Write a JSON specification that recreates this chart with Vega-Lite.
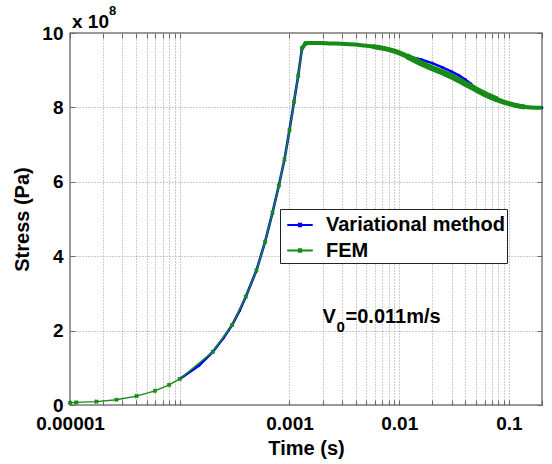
{
  "$schema": "https://vega.github.io/schema/vega-lite/v6.json",
  "width": 472,
  "height": 372,
  "autosize": {"type": "none"},
  "padding": {"left": 70, "top": 33, "right": 10, "bottom": 59},
  "background": "white",
  "config": {
    "font": "Liberation Sans",
    "view": {"stroke": "#7a7a7a", "strokeWidth": 1.5},
    "axis": {
      "labelFont": "Liberation Sans", "labelFontWeight": "bold", "labelFontSize": 19, "labelColor": "black",
      "titleFont": "Liberation Sans", "titleFontWeight": "bold", "titleFontSize": 20, "titleColor": "black",
      "domain": false, "tickColor": "#666", "tickSize": -5, "tickWidth": 1,
      "gridColor": "#999", "gridDash": [1, 2], "gridWidth": 1
    },
    "legend": {
      "orient": "none", "legendX": 210, "legendY": 176, "direction": "vertical",
      "fillColor": "white", "strokeColor": "#222", "padding": 2,
      "labelFont": "Liberation Sans", "labelFontSize": 20, "labelFontWeight": "bold", "labelColor": "black", "labelLimit": 0,
      "symbolType": "M-1,0L1,0M-0.1,-0.1L0.1,-0.1L0.1,0.1L-0.1,0.1Z",
      "symbolSize": 650, "symbolStrokeWidth": 1.8, "symbolOffset": 4, "labelOffset": 12, "rowPadding": 1.5
    }
  },
  "datasets": {
    "notes": [{"t": 0.002, "y": 2.2, "top_t": 0.00001, "top_y": 10}]
  },
  "data": {"values": [
    {"series": "FEM", "t": 0.00001, "y": 0.06},
    {"series": "FEM", "t": 0.0000114, "y": 0.07},
    {"series": "FEM", "t": 0.0000174, "y": 0.09},
    {"series": "FEM", "t": 0.0000265, "y": 0.14},
    {"series": "FEM", "t": 0.0000404, "y": 0.24},
    {"series": "FEM", "t": 0.0000594, "y": 0.38},
    {"series": "FEM", "t": 0.00008, "y": 0.54},
    {"series": "FEM", "t": 0.0001, "y": 0.7},
    {"series": "FEM", "t": 0.0002, "y": 1.43},
    {"series": "FEM", "t": 0.0003, "y": 2.15},
    {"series": "FEM", "t": 0.0004, "y": 2.91},
    {"series": "FEM", "t": 0.0005, "y": 3.62},
    {"series": "FEM", "t": 0.0006, "y": 4.39},
    {"series": "FEM", "t": 0.0007, "y": 5.17},
    {"series": "FEM", "t": 0.0008, "y": 5.9},
    {"series": "FEM", "t": 0.0009, "y": 6.6},
    {"series": "FEM", "t": 0.001, "y": 7.39},
    {"series": "FEM", "t": 0.0011, "y": 8.15},
    {"series": "FEM", "t": 0.0012, "y": 8.85},
    {"series": "FEM", "t": 0.0013, "y": 9.59},
    {"series": "FEM", "t": 0.0014, "y": 9.72},
    {"series": "FEM", "t": 0.0015, "y": 9.73},
    {"series": "FEM", "t": 0.0017, "y": 9.73},
    {"series": "FEM", "t": 0.002, "y": 9.73},
    {"series": "FEM", "t": 0.0023, "y": 9.72},
    {"series": "FEM", "t": 0.0026, "y": 9.72},
    {"series": "FEM", "t": 0.003, "y": 9.71},
    {"series": "FEM", "t": 0.0035, "y": 9.7},
    {"series": "FEM", "t": 0.004, "y": 9.69},
    {"series": "FEM", "t": 0.0045, "y": 9.67},
    {"series": "FEM", "t": 0.005, "y": 9.66},
    {"series": "FEM", "t": 0.0057, "y": 9.64},
    {"series": "FEM", "t": 0.0065, "y": 9.61},
    {"series": "FEM", "t": 0.0074, "y": 9.58},
    {"series": "FEM", "t": 0.0084, "y": 9.54},
    {"series": "FEM", "t": 0.0095, "y": 9.49},
    {"series": "FEM", "t": 0.0105, "y": 9.44},
    {"series": "FEM", "t": 0.0117, "y": 9.38},
    {"series": "FEM", "t": 0.013, "y": 9.31},
    {"series": "FEM", "t": 0.0145, "y": 9.24},
    {"series": "FEM", "t": 0.016, "y": 9.18},
    {"series": "FEM", "t": 0.018, "y": 9.11},
    {"series": "FEM", "t": 0.02, "y": 9.05},
    {"series": "FEM", "t": 0.0225, "y": 8.99},
    {"series": "FEM", "t": 0.025, "y": 8.94},
    {"series": "FEM", "t": 0.028, "y": 8.87},
    {"series": "FEM", "t": 0.031, "y": 8.81},
    {"series": "FEM", "t": 0.035, "y": 8.73},
    {"series": "FEM", "t": 0.039, "y": 8.65},
    {"series": "FEM", "t": 0.044, "y": 8.57},
    {"series": "FEM", "t": 0.049, "y": 8.5},
    {"series": "FEM", "t": 0.055, "y": 8.42},
    {"series": "FEM", "t": 0.062, "y": 8.34},
    {"series": "FEM", "t": 0.07, "y": 8.27},
    {"series": "FEM", "t": 0.078, "y": 8.21},
    {"series": "FEM", "t": 0.088, "y": 8.15},
    {"series": "FEM", "t": 0.1, "y": 8.1},
    {"series": "FEM", "t": 0.112, "y": 8.06},
    {"series": "FEM", "t": 0.126, "y": 8.03},
    {"series": "FEM", "t": 0.14, "y": 8.01},
    {"series": "FEM", "t": 0.158, "y": 8.0},
    {"series": "FEM", "t": 0.178, "y": 7.99},
    {"series": "FEM", "t": 0.2, "y": 7.99},
    {"series": "Variational method", "t": 0.0001, "y": 0.7},
    {"series": "Variational method", "t": 0.00015, "y": 1.06},
    {"series": "Variational method", "t": 0.0002, "y": 1.43},
    {"series": "Variational method", "t": 0.00025, "y": 1.8},
    {"series": "Variational method", "t": 0.0003, "y": 2.15},
    {"series": "Variational method", "t": 0.00035, "y": 2.53},
    {"series": "Variational method", "t": 0.0004, "y": 2.91},
    {"series": "Variational method", "t": 0.0005, "y": 3.62},
    {"series": "Variational method", "t": 0.0006, "y": 4.39},
    {"series": "Variational method", "t": 0.0007, "y": 5.17},
    {"series": "Variational method", "t": 0.0008, "y": 5.9},
    {"series": "Variational method", "t": 0.0009, "y": 6.6},
    {"series": "Variational method", "t": 0.001, "y": 7.39},
    {"series": "Variational method", "t": 0.0011, "y": 8.15},
    {"series": "Variational method", "t": 0.0012, "y": 8.85},
    {"series": "Variational method", "t": 0.0013, "y": 9.59},
    {"series": "Variational method", "t": 0.0014, "y": 9.73},
    {"series": "Variational method", "t": 0.002, "y": 9.73},
    {"series": "Variational method", "t": 0.003, "y": 9.71},
    {"series": "Variational method", "t": 0.004, "y": 9.69},
    {"series": "Variational method", "t": 0.005, "y": 9.66},
    {"series": "Variational method", "t": 0.007, "y": 9.59},
    {"series": "Variational method", "t": 0.01, "y": 9.47},
    {"series": "Variational method", "t": 0.013, "y": 9.35},
    {"series": "Variational method", "t": 0.016, "y": 9.28},
    {"series": "Variational method", "t": 0.02, "y": 9.19},
    {"series": "Variational method", "t": 0.025, "y": 9.07},
    {"series": "Variational method", "t": 0.03, "y": 8.96},
    {"series": "Variational method", "t": 0.035, "y": 8.86},
    {"series": "Variational method", "t": 0.04, "y": 8.75},
    {"series": "Variational method", "t": 0.045, "y": 8.63},
    {"series": "Variational method", "t": 0.05, "y": 8.5},
    {"series": "Variational method", "t": 0.06, "y": 8.37},
    {"series": "Variational method", "t": 0.07, "y": 8.28},
    {"series": "Variational method", "t": 0.08, "y": 8.2},
    {"series": "Variational method", "t": 0.1, "y": 8.1},
    {"series": "Variational method", "t": 0.13, "y": 8.03},
    {"series": "Variational method", "t": 0.16, "y": 8.0},
    {"series": "Variational method", "t": 0.2, "y": 7.99}
  ]},
  "resolve": {"axis": {"x": "independent", "y": "independent"}},
  "layer": [
    {
      "transform": [{"filter": "datum.series == 'Variational method'"}],
      "mark": {"type": "line", "strokeWidth": 2.6, "clip": true},
      "encoding": {
        "x": {"field": "t", "type": "quantitative",
          "scale": {"type": "log", "domain": [0.00001, 0.2], "nice": false},
          "axis": {"orient": "bottom", "title": "Time (s)", "titlePadding": 5, "labelPadding": 14,
            "values": [0.00001,0.00002,0.00003,0.00004,0.00005,0.00006,0.00007,0.00008,0.00009,0.0001,0.001,0.002,0.003,0.004,0.005,0.006,0.007,0.008,0.009,0.01,0.02,0.03,0.04,0.05,0.06,0.07,0.08,0.09,0.1,0.2],
            "labelExpr": "datum.value < 0.000015 ? '0.00001' : (abs(datum.value - 0.001) < 0.00001 ? '0.001' : (abs(datum.value - 0.01) < 0.0001 ? '0.01' : (abs(datum.value - 0.1) < 0.001 ? '0.1' : '')))",
            "labelOverlap": false, "labelFlush": false}},
        "y": {"field": "y", "type": "quantitative",
          "scale": {"domain": [0, 10], "nice": false},
          "axis": {"orient": "left", "title": "Stress (Pa)", "titlePadding": 9, "labelPadding": 12,
            "values": [0, 2, 4, 6, 8, 10]}},
        "color": {"field": "series", "type": "nominal",
          "scale": {"domain": ["Variational method", "FEM"], "range": ["#0000ff", "#168c16"]},
          "legend": {"title": null}}
      }
    },
    {
      "transform": [{"filter": "datum.series == 'Variational method'"}],
      "mark": {"type": "point", "filled": true, "size": 8, "opacity": 1},
      "encoding": {
        "x": {"field": "t", "type": "quantitative", "axis": null},
        "y": {"field": "y", "type": "quantitative", "axis": null},
        "color": {"field": "series", "type": "nominal", "legend": null}
      }
    },
    {
      "transform": [{"filter": "datum.series == 'FEM' && datum.t <= 0.0013"}],
      "mark": {"type": "line", "strokeWidth": 1.4, "clip": true},
      "encoding": {
        "x": {"field": "t", "type": "quantitative", "axis": null},
        "y": {"field": "y", "type": "quantitative", "axis": null},
        "color": {"field": "series", "type": "nominal", "legend": null}
      }
    },
    {
      "transform": [{"filter": "datum.series == 'FEM' && datum.t >= 0.0013"}],
      "mark": {"type": "line", "strokeWidth": 4, "clip": true},
      "encoding": {
        "x": {"field": "t", "type": "quantitative", "axis": null},
        "y": {"field": "y", "type": "quantitative", "axis": null},
        "color": {"field": "series", "type": "nominal", "legend": null}
      }
    },
    {
      "transform": [{"filter": "datum.series == 'FEM' && datum.t >= 0.0057 && datum.t <= 0.14"}],
      "mark": {"type": "line", "strokeWidth": 5, "clip": true},
      "encoding": {
        "x": {"field": "t", "type": "quantitative", "axis": null},
        "y": {"field": "y", "type": "quantitative", "axis": null},
        "color": {"field": "series", "type": "nominal", "legend": null}
      }
    },
    {
      "transform": [{"filter": "datum.series == 'FEM' && datum.t >= 0.0117 && datum.t <= 0.078"}],
      "mark": {"type": "line", "strokeWidth": 6, "clip": true},
      "encoding": {
        "x": {"field": "t", "type": "quantitative", "axis": null},
        "y": {"field": "y", "type": "quantitative", "axis": null},
        "color": {"field": "series", "type": "nominal", "legend": null}
      }
    },
    {
      "transform": [{"filter": "datum.series == 'FEM' && datum.t < 0.0016"}],
      "mark": {"type": "point", "filled": true, "size": 22, "shape": "cross", "angle": 45, "opacity": 1},
      "encoding": {
        "x": {"field": "t", "type": "quantitative", "axis": null},
        "y": {"field": "y", "type": "quantitative", "axis": null},
        "color": {"field": "series", "type": "nominal", "legend": null}
      }
    },
    {
      "data": {"name": "notes"},
      "mark": {"type": "text", "text": "V", "align": "left", "baseline": "alphabetic", "fontSize": 20, "fontWeight": "bold", "color": "black"},
      "encoding": {
        "x": {"field": "t", "type": "quantitative",
          "axis": {"orient": "top", "labels": false, "title": null, "grid": false, "ticks": true,
            "values": [0.00001,0.00002,0.00003,0.00004,0.00005,0.00006,0.00007,0.00008,0.00009,0.0001,0.001,0.002,0.003,0.004,0.005,0.006,0.007,0.008,0.009,0.01,0.02,0.03,0.04,0.05,0.06,0.07,0.08,0.09,0.1,0.2]}},
        "y": {"field": "y", "type": "quantitative",
          "axis": {"orient": "right", "labels": false, "title": null, "grid": false, "ticks": true, "values": [0, 2, 4, 6, 8, 10]}}
      }
    },
    {
      "data": {"name": "notes"},
      "mark": {"type": "text", "text": "0", "align": "left", "baseline": "alphabetic", "fontSize": 15, "fontWeight": "bold", "color": "black", "dx": 14, "dy": 9},
      "encoding": {
        "x": {"field": "t", "type": "quantitative", "axis": null},
        "y": {"field": "y", "type": "quantitative", "axis": null}
      }
    },
    {
      "data": {"name": "notes"},
      "mark": {"type": "text", "text": "=0.011m/s", "align": "left", "baseline": "alphabetic", "fontSize": 20, "fontWeight": "bold", "color": "black", "dx": 23},
      "encoding": {
        "x": {"field": "t", "type": "quantitative", "axis": null},
        "y": {"field": "y", "type": "quantitative", "axis": null}
      }
    },
    {
      "data": {"name": "notes"},
      "mark": {"type": "text", "text": "x 10", "align": "left", "baseline": "alphabetic", "fontSize": 19, "fontWeight": "bold", "color": "black", "dx": 2, "dy": -5, "clip": false},
      "encoding": {
        "x": {"field": "top_t", "type": "quantitative", "axis": null},
        "y": {"field": "top_y", "type": "quantitative", "axis": null}
      }
    },
    {
      "data": {"name": "notes"},
      "mark": {"type": "text", "text": "8", "align": "left", "baseline": "alphabetic", "fontSize": 13, "fontWeight": "bold", "color": "black", "dx": 39, "dy": -18, "clip": false},
      "encoding": {
        "x": {"field": "top_t", "type": "quantitative", "axis": null},
        "y": {"field": "top_y", "type": "quantitative", "axis": null}
      }
    }
  ]
}
